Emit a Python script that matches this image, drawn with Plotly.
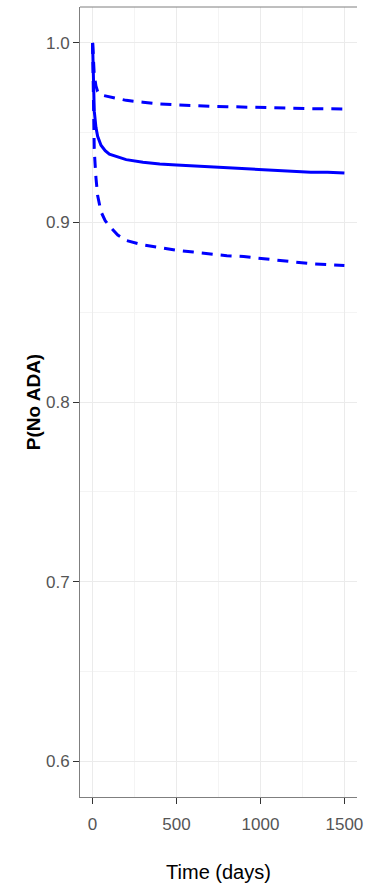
import plotly.graph_objects as go

# Survival-type estimate of staying free of anti-drug antibodies, with bounds
time_days = [0, 5, 10, 20, 30, 50, 75, 100, 150, 200, 300, 400, 500, 600,
             700, 800, 900, 1000, 1100, 1200, 1300, 1400, 1500]
p_estimate = [1.0, 0.975, 0.962, 0.953, 0.948, 0.943, 0.940, 0.938, 0.9365,
              0.935, 0.9335, 0.9325, 0.932, 0.9315, 0.931, 0.9305, 0.930,
              0.9295, 0.929, 0.9285, 0.928, 0.928, 0.9275]
p_upper = [1.0, 0.99, 0.982, 0.976, 0.973, 0.971, 0.9705, 0.970, 0.969, 0.968,
           0.967, 0.966, 0.9655, 0.965, 0.9647, 0.9645, 0.9642, 0.964, 0.9638,
           0.9636, 0.9634, 0.9633, 0.9632]
p_lower = [1.0, 0.96, 0.94, 0.925, 0.915, 0.906, 0.901, 0.898, 0.893, 0.890,
           0.8875, 0.886, 0.8845, 0.8835, 0.8825, 0.8815, 0.881, 0.880, 0.879,
           0.878, 0.877, 0.8765, 0.876]

x_ticks = [0, 500, 1000, 1500]
y_ticks = [0.6, 0.7, 0.8, 0.9, 1.0]
y_tick_text = ["0.6", "0.7", "0.8", "0.9", "1.0"]

blue = "#0000FF"
dash = "11px,8px"

fig = go.Figure()
fig.add_trace(go.Scatter(x=time_days, y=p_upper, mode="lines",
                         line=dict(color=blue, width=3, dash=dash),
                         showlegend=False, hoverinfo="skip"))
fig.add_trace(go.Scatter(x=time_days, y=p_lower, mode="lines",
                         line=dict(color=blue, width=3, dash=dash),
                         showlegend=False, hoverinfo="skip"))
fig.add_trace(go.Scatter(x=time_days, y=p_estimate, mode="lines",
                         line=dict(color=blue, width=3),
                         showlegend=False, hoverinfo="skip"))

family = "Liberation Sans, Arial, sans-serif"
tick_font = dict(family=family, size=17, color="#555555")

fig.update_layout(
    width=378, height=889,
    margin=dict(l=80, r=21, t=7, b=92),
    paper_bgcolor="white", plot_bgcolor="white",
    xaxis=dict(
        range=[-75, 1575], tickvals=x_ticks, ticktext=[str(v) for v in x_ticks],
        ticks="outside", ticklen=6, tickwidth=1, tickcolor="#333333",
        tickfont=tick_font, ticklabelstandoff=6,
        showline=True, linecolor="#7f7f7f", linewidth=1,
        showgrid=True, gridcolor="#ebebeb", gridwidth=1,
        minor=dict(tickvals=[250, 750, 1250], showgrid=True,
                   gridcolor="#f4f4f4", gridwidth=1, ticks=""),
        zeroline=False,
        title=dict(text="Time (days)", standoff=31,
                   font=dict(family=family, size=20, color="black")),
    ),
    yaxis=dict(
        range=[0.58, 1.02], tickvals=y_ticks, ticktext=y_tick_text,
        ticks="outside", ticklen=6, tickwidth=1, tickcolor="#333333",
        tickfont=tick_font,
        showline=True, linecolor="#7f7f7f", linewidth=1,
        showgrid=True, gridcolor="#ebebeb", gridwidth=1,
        minor=dict(tickvals=[0.65, 0.75, 0.85, 0.95], showgrid=True,
                   gridcolor="#f4f4f4", gridwidth=1, ticks=""),
        zeroline=False,
        title=dict(text="<b>P(No ADA)</b>", standoff=0,
                   font=dict(family=family, size=19, color="black")),
    ),
    shapes=[dict(type="line", xref="paper", yref="paper", x0=0, x1=1, y0=1, y1=1,
                 line=dict(color="#7f7f7f", width=1))],
)

fig.write_html("out.html")
